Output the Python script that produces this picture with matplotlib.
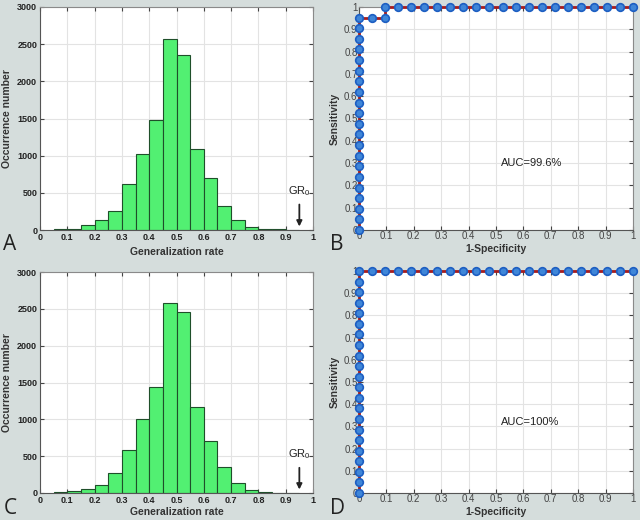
import matplotlib
matplotlib.use("Agg")
import matplotlib.pyplot as plt
import numpy as np

# ---- data ----
bin_edges = [0.05, 0.10, 0.15, 0.20, 0.25, 0.30, 0.35, 0.40, 0.45, 0.50,
             0.55, 0.60, 0.65, 0.70, 0.75, 0.80, 0.85, 0.90, 0.95]
counts_A = [10, 20, 65, 130, 250, 625, 1020, 1475, 2565, 2360,
            1090, 705, 320, 135, 40, 20, 8, 3]
counts_C = [8, 25, 60, 105, 265, 580, 1000, 1445, 2575, 2455,
            1170, 700, 350, 135, 45, 15, 5, 2]

steps = [i / 21 for i in range(22)]
# ROC B: up the y-axis to 20/21, across to 2/21, up to 1, then across
fpr_B = [0.0] * 21 + [1 / 21, 2 / 21] + steps[2:]
tpr_B = steps[:21] + [20 / 21, 20 / 21] + [1.0] * 20
# ROC D: perfect classifier
fpr_D = [0.0] * 22 + steps[1:]
tpr_D = steps + [1.0] * 21

hist_xticks = [0, 0.1, 0.2, 0.3, 0.4, 0.5, 0.6, 0.7, 0.8, 0.9, 1]
hist_xlabels = ["0", "0.1", "0.2", "0.3", "0.4", "0.5", "0.6", "0.7", "0.8", "0.9", "1"]
hist_yticks = [0, 500, 1000, 1500, 2000, 2500, 3000]
roc_ticks = hist_xticks
roc_labels = hist_xlabels
gr_x = 0.95
auc_B = "AUC=99.6%"
auc_D = "AUC=100%"

# ---- style ----
BG = "#d5dddc"
BAR = "#52f072"
BAR_EDGE = "#1f4f2a"
LINE = "#a81c1c"
MK_FACE = "#3f86d8"
MK_EDGE = "#1d5ec2"
GRID = "#e3e3e3"

plt.rcParams["font.family"] = ["Liberation Sans", "DejaVu Sans"]

fig = plt.figure(figsize=(6.4, 5.2), dpi=100, facecolor=BG)

W, H = 640, 520
def rect(x0, y_top, x1, y_bot):
    return [x0 / W, 1 - y_bot / H, (x1 - x0) / W, (y_bot - y_top) / H]

axA = fig.add_axes(rect(40, 7, 313, 230))
axB = fig.add_axes(rect(359, 7, 633, 230))
axC = fig.add_axes(rect(40, 272, 313, 493))
axD = fig.add_axes(rect(359, 271, 633, 493))

def style(ax, bold_ticks):
    ax.set_facecolor("white")
    ax.grid(True, color=GRID, lw=0.8)
    ax.set_axisbelow(True)
    for s in ["top", "right"]:
        ax.spines[s].set_color("#8a8a8a")
        ax.spines[s].set_linewidth(0.8)
    for s in ["left", "bottom"]:
        ax.spines[s].set_color("#555555")
        ax.spines[s].set_linewidth(0.8)
    ax.tick_params(direction="in", length=3, width=0.8, top=True, right=True,
                   colors="#444444", labelsize=6.5, pad=2,
                   labelcolor="#222222")
    if bold_ticks:
        for lab in ax.get_xticklabels() + ax.get_yticklabels():
            lab.set_fontweight("bold")

def hist(ax, counts, xlab_y):
    widths = [bin_edges[1] - bin_edges[0]] * len(counts)
    ax.bar(bin_edges[:-1], counts, width=widths, align="edge",
           color=BAR, edgecolor=BAR_EDGE, linewidth=0.8, zorder=2)
    ax.set_xlim(0, 1)
    ax.set_ylim(0, 3000)
    ax.set_xticks(hist_xticks)
    ax.set_xticklabels(hist_xlabels)
    ax.set_yticks(hist_yticks)
    ax.set_xlabel("Generalization rate", fontsize=7.5, fontweight="bold",
                  color="#333333")
    ax.set_ylabel("Occurrence number", fontsize=7.5, fontweight="bold",
                  color="#333333")
    ax.xaxis.set_label_coords(0.5, xlab_y)
    ax.yaxis.set_label_coords(-0.104, 0.5)
    style(ax, True)
    ax.annotate("", xy=(gr_x, 10), xytext=(gr_x, 380),
                arrowprops=dict(arrowstyle="-|>", color="#222222", lw=1.3,
                                mutation_scale=8))
    ax.text(gr_x, 430, r"GR$_\mathregular{0}$", ha="center", va="bottom",
            fontsize=8, color="#222222")

def roc(ax, fpr, tpr, auc_text, auc_y, xlab_y):
    ax.plot(fpr, tpr, color=LINE, lw=2, marker="o", markersize=5.5,
            markerfacecolor=MK_FACE, markeredgecolor=MK_EDGE,
            markeredgewidth=1.2, clip_on=False, zorder=3)
    ax.set_xlim(0, 1)
    ax.set_ylim(0, 1)
    ax.set_xticks(roc_ticks)
    ax.set_xticklabels(roc_labels)
    ax.set_yticks(roc_ticks)
    ax.set_yticklabels(roc_labels)
    ax.set_xlabel("1-Specificity", fontsize=7.5, fontweight="bold",
                  color="#333333")
    ax.set_ylabel("Sensitivity", fontsize=7.5, fontweight="bold",
                  color="#333333")
    ax.xaxis.set_label_coords(0.5, xlab_y)
    ax.yaxis.set_label_coords(-0.071, 0.5)
    style(ax, False)
    ax.tick_params(labelcolor="#444444", pad=1, labelsize=7)
    ax.text(0.52, auc_y, auc_text, fontsize=8, color="#222222",
            va="center", ha="left")

hist(axA, counts_A, -0.078)
hist(axC, counts_C, -0.063)
roc(axB, fpr_B, tpr_B, auc_B, 0.30, -0.061)
roc(axD, fpr_D, tpr_D, auc_D, 0.32, -0.065)

for letter, x, y in [("A", 10, 245), ("B", 337, 245), ("C", 10, 508), ("D", 337, 508)]:
    fig.text(x / W, 1 - y / H, letter, fontsize=15, color="#222222",
             ha="center", va="center", family=["Open Sans", "DejaVu Sans"])

fig.savefig("out.png", dpi=100, facecolor=BG)
